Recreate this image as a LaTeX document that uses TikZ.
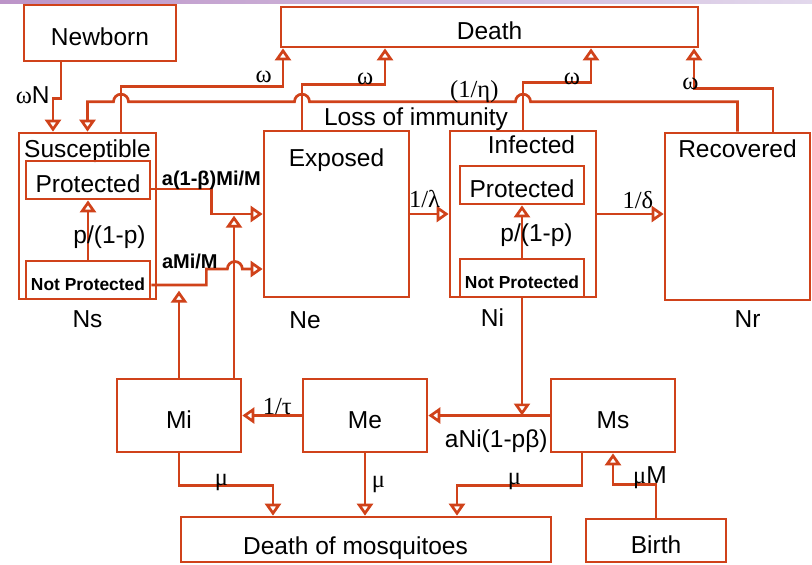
\documentclass[tikz,border=0pt]{standalone}
\usepackage{fontspec}
\setmainfont{Liberation Sans}
\newfontfamily\grk{Liberation Serif}
\usetikzlibrary{arrows.meta}
\definecolor{flowred}{RGB}{208,66,26}
\definecolor{barleft}{RGB}{188,148,200}
\definecolor{barright}{RGB}{226,216,236}
\begin{document}
\begin{tikzpicture}[x=0.5pt,y=-0.5pt,
	every node/.style={font=\fontsize{12.25}{14}\selectfont,inner sep=1pt},
	comp/.style={draw=flowred,line width=1.35pt,minimum width=62pt,minimum height=36.5pt,
		inner sep=0pt,text height=12.8pt,text depth=0pt},
	npbox/.style={font=\bfseries\fontsize{8.7}{10}\selectfont,text height=10.2pt},
	rate/.style={font=\grk\fontsize{12.25}{14}\selectfont},
	ratebf/.style={font=\bfseries\fontsize{10}{12}\selectfont},
	flow/.style={draw=flowred,line width=1.35pt,-{Triangle[open,width=8pt,length=6pt]}}]
\shade[left color=barleft,right color=barright] (0,0) rectangle (812,3);
\useasboundingbox (0,0) rectangle (812,564);
\node[comp,minimum width=76pt,minimum height=28pt] (newborn) at (100,33) {Newborn};
\node[comp,minimum width=208.5pt,minimum height=20pt] (death) at (489.5,27) {Death};
\node[comp,minimum width=68.5pt,minimum height=83pt,
	label={[anchor=center,yshift=-9.75pt]north:Susceptible}] (sus) at (87.5,216) {};
\node[comp,minimum height=19pt] (susP) at (88,180) {Protected};
\node[comp,npbox,minimum height=19pt] (susN) at (88,280) {Not Protected};
\node[comp,minimum width=72.5pt,minimum height=83pt,
	label={[anchor=center,yshift=-15.25pt]north:Exposed}] (exp) at (336.5,214) {};
\node[comp,minimum width=73pt,minimum height=83pt,
	label={[anchor=center,xshift=4.25pt,yshift=-7.75pt]north:Infected}] (inf) at (523,214) {};
\node[comp,minimum height=19pt] (infP) at (522,185) {Protected};
\node[comp,npbox,minimum height=19pt] (infN) at (522,278) {Not Protected};
\node[comp,minimum width=72.5pt,minimum height=83.5pt,
	label={[anchor=center,yshift=-8.5pt]north:Recovered}] (rec) at (737.5,216.5) {};
\node[comp] (mi) at (179,415.5) {Mi};
\node[comp] (me) at (365,415.5) {Me};
\node[comp] (ms) at (613,415.5) {Ms};
\node[comp,minimum width=185pt,minimum height=22.5pt,
	label={[anchor=center,xshift=-5.25pt,yshift=-4.45pt]center:Death of mosquitoes}] (dom) at (366,539.5) {};
\node[comp,minimum width=70pt,minimum height=21.5pt] (birth) at (656,540.5) {Birth};
\node (ns) at (87.5,319.5) {Ns};
\node (ne) at (305,320) {Ne};
\node (ni) at (492.5,317.5) {Ni};
\node (nr) at (747.5,319.5) {Nr};
\draw[flow] ([xshift=-19.5pt]newborn.south) |- ++(-8,36) node[anchor=east,yshift=1.5pt] {{\grk ω}N} -- ([xshift=-17.25pt]sus.north);
\draw[flow] ([xshift=16.75pt]sus.north) -- ++(0,-45) -| node[rate,pos=0.44,yshift=5pt] {ω} ([xshift=-103.25pt]death.south);
\draw[flow] ([xshift=-17.25pt]exp.north) -- ++(0,-45) -| node[rate,pos=0.38,yshift=3pt] {ω} ([xshift=-52.25pt]death.south);
\draw[flow] (inf.north) -- ++(0,-47) -| node[rate,pos=0.36,yshift=2pt] {ω} ([xshift=50.75pt]death.south);
\draw[flow] ([xshift=17.75pt]rec.north) -- ++(0,-43) -| node[rate,pos=0.5,xshift=-1.75pt,yshift=2.5pt] {ω} ([xshift=102.25pt]death.south);
\draw[flow] (rec.north) -- ++(0,-30) -- ++(-207,0)
	arc[start angle=0,end angle=180,radius=3.75pt]
	-- ++(-206,0) node[rate,pos=0.2,yshift=5pt] {(1/η)} node[midway,xshift=1.75pt,yshift=-9pt] {Loss of immunity}
	arc[start angle=0,end angle=180,radius=3.75pt]
	-- ++(-166,0) arc[start angle=0,end angle=180,radius=3.75pt] -| (sus.north);
\draw[flow] ([yshift=-4.5pt]susP.east) -- ++(60,0) node[ratebf,yshift=4.5pt] {a(1-β)Mi/M} |- (exp.west);
\draw[flow] ([yshift=-2.5pt]susN.east) -- ++(55,0) -- ++(0,-16) node[ratebf,xshift=-8.25pt,yshift=4pt] {aMi/M}
	-- ++(21,0) arc[start angle=180,end angle=0,radius=3.75pt] -- ([yshift=-27.5pt]exp.west);
\draw[flow] (mi.north) -- ++(0,-87);
\draw[flow] ([xshift=27.5pt]mi.north) -- ++(0,-162);
\draw[flow] (susN.north) -- (susP.south) node[midway,xshift=10.75pt,yshift=-3.5pt] {p/(1-p)};
\draw[flow] (infN.north) -- (infP.south) node[midway,xshift=7.25pt,yshift=-1.75pt] {p/(1-p)};
\draw[flow] (exp.east) -- (inf.west) node[rate,pos=0.37,yshift=7.5pt] {1/λ};
\draw[flow] (inf.east) -- (inf.east -| rec.west) node[rate,pos=0.61,yshift=6.75pt] {1/δ};
\draw[flow] (infN.south) -- (infN.south |- ms.west);
\draw[flow] (ms.west) -- (me.east) node[pos=0.44,yshift=-12.75pt] {aNi(1-pβ)};
\draw[flow] (me.west) -- (mi.east) node[rate,pos=0.41,yshift=4.5pt] {1/τ};
\draw[flow] (mi.south) |- ++(94,32) node[rate,pos=0.726,yshift=1.25pt] {μ} -- ([xshift=-46.5pt]dom.north);
\draw[flow] (me.south) -- (me.south |- dom.north) node[rate,midway,xshift=6.75pt] {μ};
\draw[flow] ([xshift=-15.5pt]ms.south) -- ++(0,32) -| node[rate,pos=0.27,yshift=2pt] {μ} ([xshift=45.5pt]dom.north);
\draw[flow] (birth.north) -- ++(0,-33) -| node[pos=0,xshift=-3pt,yshift=3.6pt] {{\grk μ}M} (ms.south);
\end{tikzpicture}
\end{document}
